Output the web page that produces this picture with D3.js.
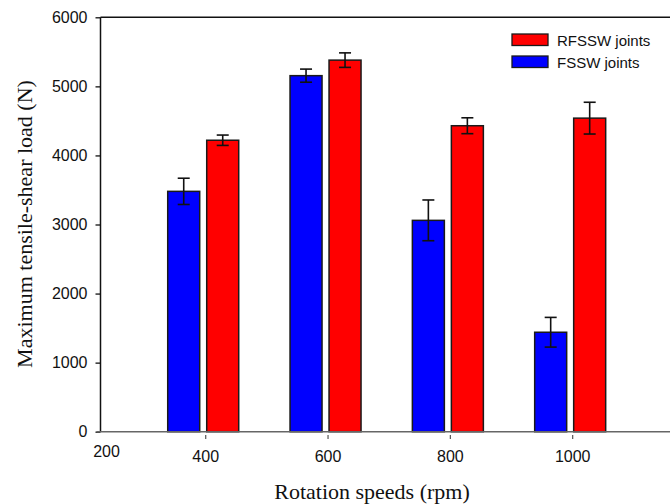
<!DOCTYPE html>
<html>
<head>
<meta charset="utf-8">
<script src="https://cdn.jsdelivr.net/npm/d3@7"></script>
<style>
  html, body { margin: 0; padding: 0; background: #fff; }
  svg { display: block; }
</style>
</head>
<body>
<div id="chart"></div>
<script>
// Rotation speeds (rpm) and joint strengths (N) with standard deviations
const speeds = [400, 600, 800, 1000];
const fsswMean = [3480, 5155, 3060, 1440];
const fsswErr = [190, 95, 295, 215];
const rfsswMean = [4220, 5380, 4430, 4540];
const rfsswErr = [75, 105, 115, 230];
const yTicks = [0, 1000, 2000, 3000, 4000, 5000, 6000];
const seriesNames = ["RFSSW joints", "FSSW joints"];
const seriesColors = { "RFSSW joints": "#ff0000", "FSSW joints": "#0000ff" };

const W = 670, H = 504;
const plotLeft = 100.5, plotTop = 17.3, plotBottom = 431.7;

const svg = d3.select("#chart").append("svg")
  .attr("width", W).attr("height", H);

const x = d3.scaleLinear().domain([200, 1200]).range([83.4, 695]);
const y = d3.scaleLinear().domain([0, 6000]).range([plotBottom, plotTop]);

const barW = 32;
const tickFont = "'Liberation Sans', Arial, sans-serif";

// Bars: FSSW to the left of each tick, RFSSW starting just right of it
const series = [
  { name: "FSSW joints", mean: fsswMean, err: fsswErr, x0: s => x(s) - 6 - barW },
  { name: "RFSSW joints", mean: rfsswMean, err: rfsswErr, x0: s => x(s) + 1 }
];

const plot = svg.append("g");

series.forEach(sr => {
  const rows = speeds.map((s, i) => ({ s, v: sr.mean[i], e: sr.err[i] }));
  plot.selectAll(null).data(rows).enter().append("rect")
    .attr("x", d => sr.x0(d.s))
    .attr("y", d => y(d.v))
    .attr("width", barW)
    .attr("height", d => y(0) - y(d.v))
    .attr("fill", seriesColors[sr.name])
    .attr("stroke", "#1a1a1a")
    .attr("stroke-width", 1.5);

  const eb = plot.selectAll(null).data(rows).enter().append("g")
    .attr("stroke", "#111").attr("stroke-width", 1.6).attr("fill", "none");
  const cx = d => sr.x0(d.s) + barW / 2;
  eb.append("line")
    .attr("x1", cx).attr("x2", cx)
    .attr("y1", d => y(d.v + d.e)).attr("y2", d => y(d.v - d.e));
  eb.append("line")
    .attr("x1", d => cx(d) - 6).attr("x2", d => cx(d) + 6)
    .attr("y1", d => y(d.v + d.e)).attr("y2", d => y(d.v + d.e));
  eb.append("line")
    .attr("x1", d => cx(d) - 6).attr("x2", d => cx(d) + 6)
    .attr("y1", d => y(d.v - d.e)).attr("y2", d => y(d.v - d.e));
});

// Frame: top border, left axis, bottom axis
svg.append("line")
  .attr("x1", plotLeft).attr("x2", W).attr("y1", plotTop).attr("y2", plotTop)
  .attr("stroke", "#111").attr("stroke-width", 1.5);

const yAxis = svg.append("g")
  .attr("transform", `translate(${plotLeft},0)`)
  .call(d3.axisLeft(y).tickValues(yTicks).tickSize(5).tickPadding(8).tickFormat(d3.format("d")));
yAxis.select(".domain").attr("stroke", "#111").attr("stroke-width", 1.5)
  .attr("d", `M0,${plotBottom}V${plotTop}`);
yAxis.selectAll(".tick line").attr("stroke", "#111").attr("stroke-width", 1.3);
yAxis.selectAll(".tick text")
  .attr("font-family", tickFont)
  .attr("font-size", 16).attr("fill", "#111");

svg.append("line")
  .attr("x1", plotLeft - 4).attr("x2", W).attr("y1", plotBottom).attr("y2", plotBottom)
  .attr("stroke", "#666").attr("stroke-width", 1.5);

// Small tick marks sit just below the bottom axis
const xAxis = svg.append("g").attr("transform", `translate(0,${plotBottom})`);
xAxis.selectAll(null).data(speeds).enter().append("line")
  .attr("x1", d => x(d)).attr("x2", d => x(d))
  .attr("y1", 3.3).attr("y2", 7.3)
  .attr("stroke", "#555").attr("stroke-width", 1.2);
xAxis.selectAll(null).data(speeds).enter().append("text")
  .attr("x", d => x(d)).attr("y", 30.5)
  .attr("text-anchor", "middle")
  .attr("font-family", tickFont)
  .attr("font-size", 16).attr("fill", "#111")
  .text(d => d);
// Axis origin label
xAxis.append("text")
  .attr("x", plotLeft + 6).attr("y", 25)
  .attr("text-anchor", "middle")
  .attr("font-family", tickFont)
  .attr("font-size", 16).attr("fill", "#111")
  .text(x.domain()[0]);

// Axis titles
svg.append("text")
  .attr("x", 372).attr("y", 499)
  .attr("text-anchor", "middle")
  .attr("font-family", "'Liberation Serif', 'Times New Roman', serif")
  .attr("font-size", 22).attr("fill", "#111")
  .text("Rotation speeds (rpm)");

svg.append("text")
  .attr("transform", "translate(32,224) rotate(-90)")
  .attr("text-anchor", "middle")
  .attr("font-family", "'Liberation Serif', 'Times New Roman', serif")
  .attr("font-size", 22).attr("fill", "#111")
  .text("Maximum tensile-shear load (N)");

// Legend
const legend = svg.append("g").attr("transform", "translate(512,34)");
const li = legend.selectAll(null).data(seriesNames).enter().append("g")
  .attr("transform", (d, i) => `translate(0,${i * 22})`);
li.append("rect")
  .attr("width", 36).attr("height", 11.5)
  .attr("fill", d => seriesColors[d])
  .attr("stroke", "#1a1a1a").attr("stroke-width", 1.3);
li.append("text")
  .attr("x", 45).attr("y", 11.5)
  .attr("font-family", tickFont)
  .attr("font-size", 15).attr("fill", "#111")
  .text(d => d);
</script>
</body>
</html>
